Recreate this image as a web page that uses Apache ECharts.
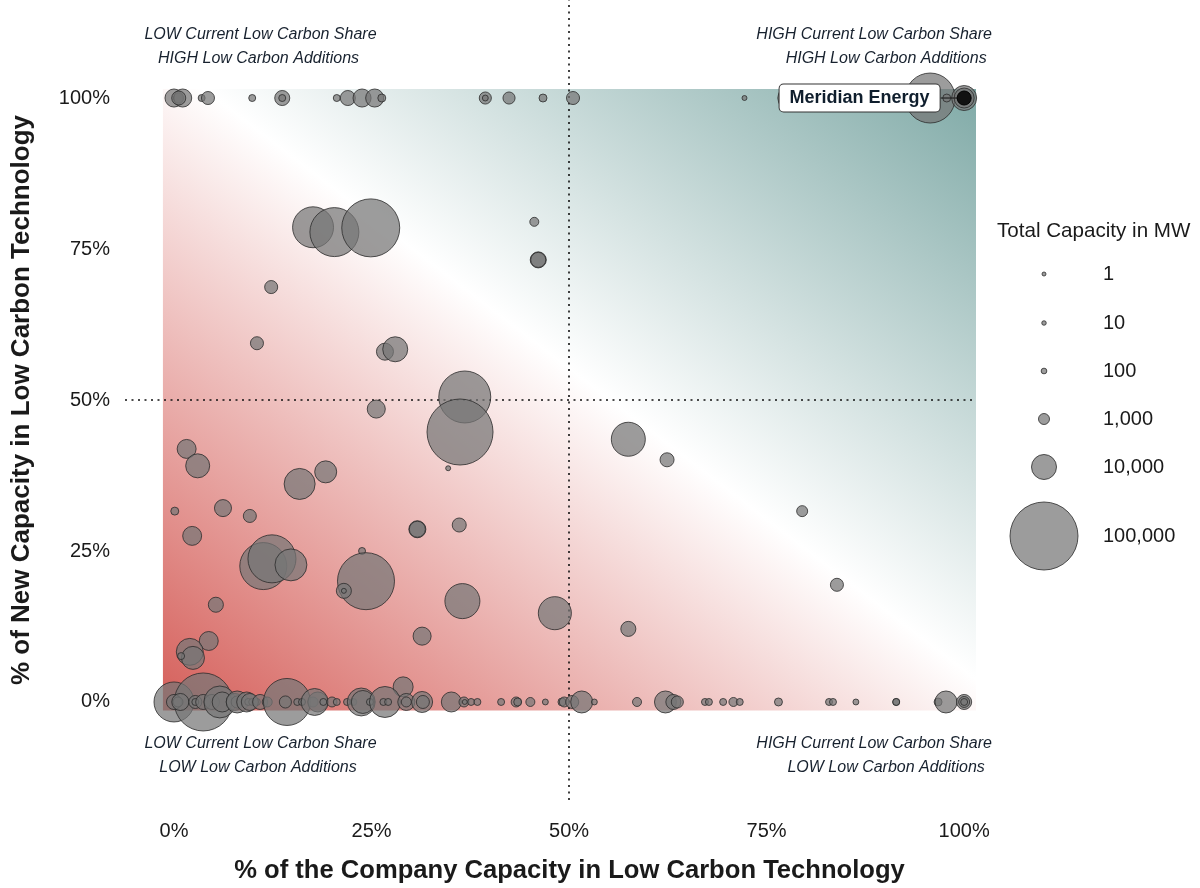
<!DOCTYPE html>
<html>
<head>
<meta charset="utf-8">
<script src="https://cdn.jsdelivr.net/npm/echarts@6/dist/echarts.min.js"></script>
<style>html,body{margin:0;padding:0;background:#fff}#chart{width:1200px;height:888px}</style>
</head>
<body>
<div id="chart"></div>
<script>
// ---------------- DATA ----------------
// % of company capacity in low-carbon technology (x)
const lowCarbonSharePct = [
  // companies with 100% low-carbon additions
  0, 0.6, 1.1, 0.6, 3.5, 4.3, 9.9, 13.7, 13.7, 20.6, 22.0, 23.8, 25.4, 26.3, 39.4, 39.4, 42.4, 46.7, 50.5, 72.2, 78.0, 84.4, 95.7, 97.8, 100, 100,
  // companies with partial low-carbon additions
  17.6, 20.3, 24.9, 45.6, 46.1, 46.1, 12.3, 10.5, 26.7, 28.0, 36.8, 25.6, 36.2, 1.6, 3.0, 15.9, 19.2, 34.7, 0.1, 6.2, 9.6, 2.3, 30.8, 30.8, 36.1, 23.8, 11.3, 12.4, 14.8, 24.3, 21.5, 21.5, 5.3, 36.5, 48.2, 31.4, 4.4, 2.0, 2.4, 0.9, 57.5, 62.4, 79.5, 83.9, 57.5, 29.0,
  // companies with no low-carbon additions
  0, 3.7, 0, 0.5, 0.8, 2.7, 2.7, 3.7, 4.8, 5.8, 6.1, 7.7, 8.0, 8.0, 9.2, 9.4, 9.9, 10.5, 9.6, 10.9, 11.8, 14.3, 14.1, 15.6, 16.2, 17.6, 18.2, 17.8, 18.9, 20.0, 20.6, 21.9, 22.7, 23.7, 23.9, 24.8, 26.7, 26.5, 27.1, 29.4, 29.4, 31.4, 31.5, 35.1, 36.7, 36.8, 37.6, 38.4, 41.4, 43.3, 43.5, 45.1, 47.0, 49.1, 49.4, 50.4, 51.6, 53.2, 58.6, 62.2, 63.2, 63.7, 67.2, 67.7, 69.5, 70.8, 71.6, 76.5, 82.9, 83.4, 86.3, 91.4, 91.4, 96.7, 97.7, 100, 100, 100
];
// % of new capacity in low-carbon technology (y)
const newLowCarbonPct = [
  100, 100, 100, 100, 100, 100, 100, 100, 100, 100, 100, 100, 100, 100, 100, 100, 100, 100, 100, 100, 100, 100, 100, 100, 100, 100,
  78.6, 77.8, 78.5, 79.5, 73.2, 73.2, 68.7, 59.4, 58.0, 58.4, 50.5, 48.5, 44.7, 41.9, 39.1, 36.1, 38.1, 38.7, 31.6, 32.1, 30.8, 27.5, 28.6, 28.6, 29.3, 25.0, 22.5, 23.7, 22.7, 20.0, 18.4, 18.4, 16.1, 16.7, 14.7, 10.9, 10.1, 8.3, 7.3, 7.6, 43.5, 40.1, 31.6, 19.4, 12.1, 2.5,
  0, 0, 0, 0, 0, 0, 0, 0, 0, 0, 0, 0, 0, 0, 0, 0, 0, 0, 0, 0, 0, 0, 0, 0, 0, 0, 0, 0, 0, 0, 0, 0, 0, 0, 0, 0, 0, 0, 0, 0, 0, 0, 0, 0, 0, 0, 0, 0, 0, 0, 0, 0, 0, 0, 0, 0, 0, 0, 0, 0, 0, 0, 0, 0, 0, 0, 0, 0, 0, 0, 0, 0, 0, 0, 0, 0, 0, 0
];
// total capacity in MW (bubble size)
const totalCapacityMW = [
  3200, 650, 3200, 1650, 175, 1400, 175, 1950, 175, 175, 1950, 3200, 3200, 270, 1200, 110, 1200, 270, 1400, 25, 10000, 270, 38100, 270, 10000, 4400,
  23500, 36100, 58500, 420, 2300, 1950, 1400, 1400, 2700, 10000, 42400, 3200, 90000, 3700, 8500, 13800, 6100, 25, 270, 2700, 1400, 3700, 2700, 2300, 1650, 175, 32500, 34300, 14500, 55500, 1950, 25, 1950, 17100, 15400, 3200, 3700, 11100, 7200, 175, 16200, 1650, 1000, 1400, 1950, 4400,
  22300, 58500, 1950, 650, 2700, 1400, 175, 1950, 1950, 14500, 4400, 2700, 1200, 6100, 4400, 175, 175, 175, 2700, 1950, 650, 32500, 1200, 175, 175, 650, 4400, 11100, 175, 650, 175, 175, 175, 11700, 7200, 175, 13800, 175, 175, 2700, 650, 5200, 1400, 4400, 650, 25, 175, 175, 175, 650, 270, 420, 110, 270, 650, 1400, 6100, 110, 420, 6100, 1950, 1200, 175, 175, 175, 420, 175, 270, 175, 175, 110, 175, 175, 270, 6100, 1950, 1000, 175
];
// highlighted company: [x %, y %, MW]
const highlightName = 'Meridian Energy';
const highlightPoint = [100, 100, 1650];

const xTicks = [0, 25, 50, 75, 100];
const yTicks = [0, 25, 50, 75, 100];
const thresholdPct = 50;
const legendTitle = 'Total Capacity in MW';
const legendMW = [1, 10, 100, 1000, 10000, 100000];
const quadrantLines = [
  'LOW Current Low Carbon Share', 'HIGH Low Carbon Additions',
  'HIGH Current Low Carbon Share', 'HIGH Low Carbon Additions',
  'LOW Current Low Carbon Share', 'LOW Low Carbon Additions',
  'HIGH Current Low Carbon Share', 'LOW Low Carbon Additions'
];
const xAxisTitle = '% of the Company Capacity in Low Carbon Technology';
const yAxisTitle = '% of New Capacity in Low Carbon Technology';

// ---------------- STYLE / LAYOUT ----------------
const FONT = '"Liberation Sans", Arial, Helvetica, sans-serif';
const TEXT = '#1a1a1a';
const NAVY = '#17212e';
// size scale: log10(MW) -> diameter in px
const SIZE_STOPS = [[0, 4], [1, 4.5], [2, 5.7], [3, 11], [4, 25], [5, 68]];
function bubbleSize(mw) {
  const l = Math.log10(Math.max(mw, 1));
  for (let i = 1; i < SIZE_STOPS.length; i++) {
    if (l <= SIZE_STOPS[i][0] || i === SIZE_STOPS.length - 1) {
      const [a0, d0] = SIZE_STOPS[i - 1], [a1, d1] = SIZE_STOPS[i];
      return d0 + (d1 - d0) * (l - a0) / (a1 - a0);
    }
  }
}
const BUBBLE_FILL = 'rgba(118,118,118,0.72)';
const BUBBLE_EDGE = '#2b2b2b';
const BG_RANGE = [-1.4, 101.5];
const BG_STOPS = [
  { offset: 0, color: '#d55f5a' },
  { offset: 0.525, color: '#ffffff' },
  { offset: 1, color: '#80aaa7' }
];
// quadrant label anchors in data space (x %, y %)
const quadrantPos = [
  [10.95, 110.43], [10.7, 106.46],
  [88.61, 110.43], [90.13, 106.46],
  [10.95, -6.95], [10.63, -10.93],
  [88.61, -6.95], [90.13, -10.93]
];

const points = lowCarbonSharePct.map((x, i) => [x, newLowCarbonPct[i], totalCapacityMW[i]]);

const chart = echarts.init(document.getElementById('chart'), null, { renderer: 'canvas' });

const legendY = [274, 323, 371, 419, 467, 536];
const graphics = [
  { type: 'text', x: 997, y: 231, style: { text: legendTitle, font: '20.6px ' + FONT, fill: TEXT, align: 'left', verticalAlign: 'middle' } },
  { type: 'text', x: 569.5, y: 871, style: { text: xAxisTitle, font: 'bold 25.6px ' + FONT, fill: TEXT, align: 'center', verticalAlign: 'middle' } }
];
legendMW.forEach((v, i) => {
  graphics.push({ type: 'circle', x: 1044, y: legendY[i], shape: { cx: 0, cy: 0, r: bubbleSize(v) / 2 },
    style: { fill: BUBBLE_FILL, stroke: BUBBLE_EDGE, lineWidth: 0.8 } });
  graphics.push({ type: 'text', x: 1103, y: legendY[i], style: { text: v.toLocaleString('en-US'), font: '20px ' + FONT, fill: TEXT, align: 'left', verticalAlign: 'middle' } });
});

const option = {
  animation: false,
  backgroundColor: '#ffffff',
  grid: { left: 125, right: 224, top: 0, bottom: 88, containLabel: false },
  xAxis: {
    type: 'value', min: -6.2, max: 101.5,
    axisLine: { show: false }, axisTick: { show: false }, splitLine: { show: false },
    axisLabel: { customValues: xTicks, formatter: v => v + '%', fontFamily: FONT, fontSize: 20, color: TEXT, margin: 21 }
  },
  yAxis: {
    type: 'value', min: -16.23, max: 116.23,
    name: yAxisTitle, nameLocation: 'middle', nameGap: 90, nameRotate: 90,
    nameTextStyle: { fontFamily: FONT, fontSize: 26, fontWeight: 'bold', color: TEXT },
    axisLine: { show: false }, axisTick: { show: false }, splitLine: { show: false },
    axisLabel: { customValues: yTicks, formatter: v => v + '%', fontFamily: FONT, fontSize: 20, color: TEXT, margin: 15 }
  },
  graphic: graphics,
  series: [
    {
      type: 'custom', silent: true, z: 0, clip: false, data: [[0, 0]],
      renderItem(params, api) {
        const p0 = api.coord([BG_RANGE[0], BG_RANGE[0]]);
        const p1 = api.coord([BG_RANGE[1], BG_RANGE[1]]);
        const W = p1[0] - p0[0], H = p0[1] - p1[1];
        const t = 2 * W * H / (W * W + H * H);
        const grad = new echarts.graphic.LinearGradient(p0[0], p0[1], p0[0] + H * t, p0[1] - W * t, BG_STOPS, true);
        return { type: 'rect', shape: { x: p0[0], y: p1[1], width: W, height: H }, style: { fill: grad } };
      }
    },
    {
      type: 'scatter', z: 3, clip: false, silent: true,
      data: points,
      symbolSize: v => bubbleSize(v[2]),
      itemStyle: { color: BUBBLE_FILL, borderColor: BUBBLE_EDGE, borderWidth: 0.8, opacity: 1 },
      markLine: {
        silent: true, symbol: 'none', animation: false, z: 2,
        label: { show: false },
        lineStyle: { type: [2, 4.5], color: '#111', width: 1.6, opacity: 1 },
        data: [{ xAxis: thresholdPct }, { yAxis: thresholdPct }]
      }
    },
    {
      type: 'scatter', z: 5, clip: false, silent: true,
      data: [highlightPoint],
      symbolSize: v => bubbleSize(v[2]),
      itemStyle: { color: '#111111', borderColor: '#000', borderWidth: 1, opacity: 1 },
      label: {
        show: true, position: 'left', distance: 4, formatter: highlightName,
        fontFamily: FONT, fontSize: 18, fontWeight: 'bold', color: '#0f1e2d', opacity: 1,
        backgroundColor: '#ffffff', borderColor: '#333', borderWidth: 1, borderRadius: 4, padding: [5, 10, 4, 10]
      },
      labelLayout: { dx: -13 },
      labelLine: { show: true, lineStyle: { color: '#222', width: 1.2 } }
    },
    {
      type: 'scatter', z: 6, clip: false, silent: true,
      symbolSize: 1, itemStyle: { color: 'transparent', opacity: 1 },
      data: quadrantLines.map((t, i) => ({ name: t, value: quadrantPos[i] })),
      label: {
        show: true, position: 'inside', formatter: p => p.name, opacity: 1,
        fontFamily: FONT, fontSize: 16, fontStyle: 'italic', color: NAVY
      }
    }
  ]
};
chart.setOption(option);
</script>
</body>
</html>
